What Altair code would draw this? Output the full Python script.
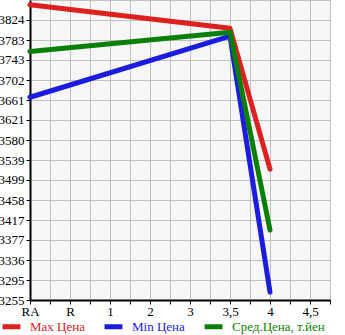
import altair as alt
import pandas as pd

# Grade categories along the x axis and the three price series
categories = ["RA", "R", "1", "2", "3", "3,5", "4", "4,5"]
points = ["RA", "3,5", "4"]
max_price = [3855, 3807, 3521]
min_price = [3667, 3791, 3271]
avg_price = [3760, 3799, 3397]

series_names = ["Max Цена", "Min Цена", "Сред.Цена, т.йен"]
series_colors = ["#dd2020", "#1c1ce0", "#0a800a"]

y_ticks = [3255, 3295, 3336, 3377, 3417, 3458, 3499, 3539, 3580,
           3621, 3661, 3702, 3743, 3783, 3824]
y_top = 3864.6

rows = []
for name, vals in zip(series_names, [max_price, min_price, avg_price]):
    for cat, v in zip(points, vals):
        rows.append({"series": name, "pos": categories.index(cat), "price": v})
df = pd.DataFrame(rows)

cat_js = "[" + ",".join(f"'{c}'" for c in categories) + "]"
label_color_expr = (
    f"datum.label == '{series_names[0]}' ? '{series_colors[0]}' : "
    f"datum.label == '{series_names[1]}' ? '{series_colors[1]}' : '{series_colors[2]}'"
)

FONT = "Liberation Serif"

chart = (
    alt.Chart(df)
    .mark_line(strokeWidth=5, strokeCap="round", strokeJoin="round")
    .encode(
        x=alt.X(
            "pos:Q",
            scale=alt.Scale(domain=[0, 7.5], nice=False, zero=False),
            axis=alt.Axis(
                title=None,
                values=[i * 0.5 for i in range(16)],
                labelExpr=f"datum.value % 1 == 0 ? {cat_js}[datum.value] : ''",
                labelPadding=1,
                labelFlush=False,
                labelOverlap=False,
            ),
        ),
        y=alt.Y(
            "price:Q",
            scale=alt.Scale(domain=[3255, y_top], nice=False, zero=False),
            axis=alt.Axis(
                title=None,
                values=y_ticks,
                format="d",
                labelPadding=2,
                labelOverlap=False,
            ),
        ),
        color=alt.Color(
            "series:N",
            sort=series_names,
            scale=alt.Scale(domain=series_names, range=series_colors),
            legend=alt.Legend(
                title=None,
                orient="none",
                direction="horizontal",
                legendX=-30,
                legendY=315,
                symbolType="stroke",
                symbolSize=320,
                symbolStrokeWidth=5,
                labelOffset=7,
                columnPadding=9,
                padding=0,
                labelFont=FONT,
                labelFontSize=13,
                labelColor=alt.ExprRef(label_color_expr),
            ),
        ),
        order=alt.Order("pos:Q"),
    )
    .properties(
        width=300,
        height=300,
        autosize=alt.AutoSizeParams(type="none"),
        padding={"left": 30, "top": 0, "right": 15, "bottom": 35},
    )
    .configure_view(fill="#f6f6f6", stroke="#c0c0c0", strokeWidth=1)
    .configure_axis(
        domainColor="#000000",
        domainWidth=2,
        gridColor="#c0c0c0",
        gridWidth=1,
        gridOpacity=1,
        tickColor="#000000",
        tickSize=4,
        tickWidth=1,
        labelFont=FONT,
        labelFontSize=13,
        labelColor="#000000",
    )
)

chart.save("out.html", embed_options={"renderer": "svg", "actions": False})
